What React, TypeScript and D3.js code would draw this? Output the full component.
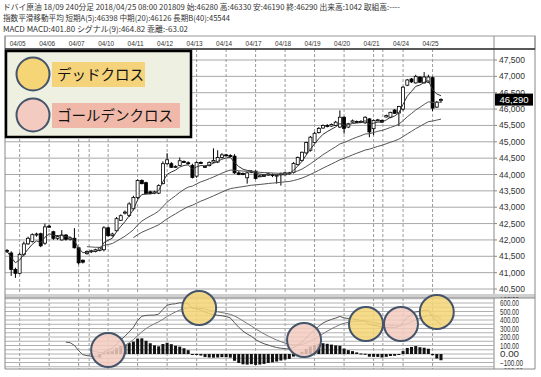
import React from 'react';
import * as d3 from 'd3';

const HEADER_LINES = [
  'ドバイ原油 18/09 240分足 2018/04/25 08:00 201809 始:46280 高:46330 安:46190 終:46290 出来高:1042 取組高:----',
  '指数平滑移動平均 短期A(5):46398 中期(20):46126 長期B(40):45544',
  'MACD MACD:401.80 シグナル(9):464.82 乖離:-63.02',
];
const HEADER_WIDTHS = [397, 227, 185];

const DATE_LABELS = ['04/05', '04/06', '04/07', '04/10', '04/11', '04/12', '04/13', '04/14', '04/17', '04/18', '04/19', '04/20', '04/21', '04/24', '04/25'];
const DATE_START_BARS = [3, 10, 17, 24, 31, 38, 45, 52, 59, 66, 73, 80, 87, 94, 101];
const SESSION_BREAK_BARS = [19.5, 89.2];

const PRICE_TICKS = d3.range(40500, 47501, 500);
const MACD_TICKS = d3.range(-200, 701, 100);
const MACD_GRID = d3.range(-200, 701, 50);

const OPEN = [
  41680, 41600, 41100, 40980, 41560, 41880, 41950, 42150, 42190, 41900,
  42420, 42250, 42050, 42000, 42150, 42020, 42050, 41760, 41380, 41580,
  41640, 41650, 41680, 41700, 42370, 42130, 42280, 42600, 42830, 42750,
  42950, 43300, 43820, 43750, 43470, 43430, 43430, 43720, 44330, 44330,
  44220, 44280, 44400, 44360, 44280, 43950, 44370, 44250, 44270, 44380,
  44380, 44520, 44600, 44580, 44560, 44050, 44030, 43900, 44060, 44100,
  43950, 43960, 43980, 44000, 43970, 44000, 43990, 44050, 44060, 44300,
  44430, 44660, 44740, 44980, 45280, 45420, 45500, 45480, 45500, 45450,
  45750, 45450, 45600, 45620, 45600, 45580, 45700, 45400, 45660, 45650,
  45760, 45750, 45970, 45880, 46000, 46730, 46920, 46800, 46980, 46800,
  46820, 46960, 46060, 46280,
];
const HIGH = [
  41720, 41650, 41150, 41620, 41950, 42100, 42200, 42220, 42220, 42500,
  42460, 42280, 42150, 42300, 42180, 42100, 42360, 41780, 41400, 41680,
  41700, 41730, 41780, 42420, 42400, 42220, 42700, 42780, 42900, 43150,
  43350, 43850, 43850, 43780, 43500, 43500, 43700, 44400, 44650, 44380,
  44280, 44520, 44430, 44400, 44330, 44400, 44400, 44280, 44400, 44800,
  44740, 44650, 44630, 44620, 44620, 44100, 44060, 44080, 44130, 44130,
  43990, 44000, 44050, 44030, 44000, 44060, 44080, 44080, 44380, 44550,
  44700, 45000, 45180, 45300, 45450, 45530, 45540, 45560, 45640, 45960,
  45780, 45580, 45680, 45650, 45660, 45780, 45720, 45680, 45700, 45680,
  45830, 45920, 46000, 46100, 46700, 46920, 46950, 47050, 47000, 47130,
  47050, 47000, 46250, 46330,
];
const LOW = [
  41600, 40900, 40840, 40950, 41500, 41850, 41920, 42100, 41780, 41850,
  42380, 42000, 42000, 41980, 41980, 41980, 41740, 41250, 41280, 41550,
  41600, 41620, 41650, 41650, 42100, 42100, 42250, 42580, 42780, 42700,
  42900, 43250, 43700, 43400, 43400, 43400, 43400, 43700, 44300, 44200,
  44200, 44260, 44350, 44300, 43880, 43900, 44330, 44200, 44250, 44350,
  44350, 44500, 44560, 44540, 44020, 43980, 43980, 43720, 44040, 43850,
  43920, 43930, 43960, 43920, 43720, 43660, 43970, 44000, 44030, 44280,
  44400, 44620, 44700, 44950, 45250, 45400, 45440, 45460, 45480, 45420,
  45250, 45420, 45580, 45580, 45570, 45550, 45140, 45200, 45630, 45580,
  45740, 45720, 45850, 45480, 45950, 46700, 46800, 46780, 46800, 46780,
  46800, 45940, 46040, 46190,
];
const CLOSE = [
  41650, 41100, 40980, 41560, 41880, 42050, 42160, 42180, 41820, 42400,
  42410, 42050, 42100, 42150, 42020, 42060, 41760, 41300, 41320, 41650,
  41670, 41700, 41760, 42370, 42130, 42180, 42650, 42740, 42850, 43100,
  43300, 43820, 43720, 43420, 43420, 43470, 43660, 44330, 44450, 44220,
  44250, 44420, 44370, 44330, 43910, 44370, 44360, 44230, 44370, 44430,
  44520, 44600, 44580, 44560, 44050, 44000, 44000, 44050, 44100, 43880,
  43960, 43970, 44020, 43970, 43980, 44020, 44050, 44030, 44340, 44520,
  44680, 44980, 45140, 45260, 45410, 45500, 45470, 45530, 45600, 45750,
  45410, 45550, 45640, 45600, 45620, 45750, 45300, 45650, 45670, 45600,
  45800, 45900, 45870, 46080, 46670, 46890, 46830, 47000, 46820, 46980,
  46980, 46030, 46210, 46290,
];
const LAST_PRICE = 46290;

const MA_PERIODS = [5, 20, 40];
const MA_START_BARS = [0, 19, 30];
const MACD_FAST = 12, MACD_SLOW = 26, MACD_SIGNAL = 9;
const MACD_START_BAR = 14, SIGNAL_START_BAR = 20, HIST_START_BAR = 22;

const CROSS_BARS = [24, 45.6, 70.5, 85.2, 93.5, 102];
const CROSS_VALUES = [47, 541, 165, 353, 353, 494];
const CROSS_KINDS = ['golden', 'dead', 'golden', 'dead', 'golden', 'dead'];

const LEGEND_LABELS = ['デッドクロス', 'ゴールデンクロス'];
const LEGEND_KINDS = ['dead', 'golden'];

function ema(vals: number[], n: number): number[] {
  const k = 2 / (n + 1);
  const out: number[] = [];
  let prev = vals[0];
  vals.forEach((v, i) => {
    prev = i === 0 ? v : v * k + prev * (1 - k);
    out.push(prev);
  });
  return out;
}

const FILL = { dead: '#F5D576', golden: '#F3CBC0' } as any;
const HILITE = { dead: '#F4D37A', golden: '#EFB8A8' } as any;
const RING = '#44546A';

export default function App() {
  const N = CLOSE.length;
  const x = d3.scaleLinear().domain([0, N - 1]).range([7, 441]);
  const y = d3.scaleLinear().domain([40500, 47500]).range([289, 60]);
  const ym = d3.scaleLinear().domain([-200, 700]).range([371, 294.5]);

  const L = 5, R = 535, DIV = 494;
  const mainTop = 49, mainBot = 294, macdTop = 298, macdBot = 369;

  const mas = MA_PERIODS.map((p) => ema(CLOSE, p));
  const fast = ema(CLOSE, MACD_FAST);
  const slow = ema(CLOSE, MACD_SLOW);
  const macd = fast.map((v, i) => v - slow[i]);
  const signal = ema(macd, MACD_SIGNAL);
  const hist = macd.map((v, i) => v - signal[i]);

  const line = d3.line<[number, number]>().x((d) => d[0]).y((d) => d[1]).curve(d3.curveLinear);
  const maPath = (vals: number[], start: number) =>
    line(vals.map((v, i) => [x(i), y(v)] as [number, number]).filter((_, i) => i >= start)) || '';
  const mPath = (vals: number[], start: number) =>
    line(vals.map((v, i) => [x(i), ym(v)] as [number, number]).filter((_, i) => i >= start)) || '';

  const vLines = [...DATE_START_BARS, ...SESSION_BREAK_BARS];
  const bw = 3;
  const font = "'Noto Sans CJK JP', 'Liberation Sans', sans-serif";
  const numFont = "'Liberation Sans', Arial, sans-serif";

  return (
    <svg width={541} height={377} style={{ position: 'fixed', left: 0, top: 0, background: '#fff' }}>
      <defs>
        <clipPath id="mainClip"><rect x={L} y={mainTop} width={DIV - L} height={mainBot - mainTop} /></clipPath>
        <clipPath id="macdClip"><rect x={L} y={macdTop} width={DIV - L} height={macdBot - macdTop} /></clipPath>
        <clipPath id="macdAxisClip"><rect x={DIV} y={macdTop - 1} width={R - DIV} height={macdBot - macdTop + 1} /></clipPath>
      </defs>
      <rect x={0} y={0} width={541} height={377} fill="#fff" />

      {HEADER_LINES.map((t, k) => (
        <text key={k} x={3} y={10 + k * 11} fontFamily={font} fontSize={8} fill="#333"
          textLength={HEADER_WIDTHS[k]} lengthAdjust="spacingAndGlyphs">{t}</text>
      ))}

      {/* date row */}
      <rect x={L} y={36} width={R - L} height={13} fill="#fff" stroke="#999" strokeWidth={1} />
      <line x1={DIV} x2={DIV} y1={36} y2={macdBot} stroke="#888" strokeWidth={1} />
      {DATE_LABELS.map((d, k) => (
        <text key={d} x={x(DATE_START_BARS[k]) - 2} y={46} textAnchor="middle" fontFamily={numFont}
          fontSize={8} fill="#333" textLength={16} lengthAdjust="spacingAndGlyphs">{d}</text>
      ))}

      {/* main grid */}
      {PRICE_TICKS.map((p) => (
        <line key={p} x1={L} x2={DIV} y1={y(p)} y2={y(p)} stroke="#a8a8a8" strokeWidth={1} />
      ))}
      {PRICE_TICKS.map((p) => (
        <line key={'t' + p} x1={DIV} x2={DIV + 3} y1={y(p)} y2={y(p)} stroke="#888" strokeWidth={1} />
      ))}
      {vLines.map((b, k) => (
        <g key={k}>
          <line x1={x(b)} x2={x(b)} y1={mainTop} y2={mainBot} stroke="#9a9a9a" strokeDasharray="3,2" strokeWidth={1} />
          <line x1={x(b)} x2={x(b)} y1={macdTop} y2={macdBot} stroke="#9a9a9a" strokeDasharray="3,2" strokeWidth={1} />
        </g>
      ))}

      {/* candles */}
      <g clipPath="url(#mainClip)">
        {CLOSE.map((c, i) => {
          const o = OPEN[i];
          const up = c >= o;
          const top = y(Math.max(o, c));
          const bot = y(Math.min(o, c));
          return (
            <g key={i}>
              <line x1={x(i)} x2={x(i)} y1={y(HIGH[i])} y2={y(LOW[i])} stroke="#000" strokeWidth={1} />
              <rect x={x(i) - bw / 2} y={top} width={bw} height={Math.max(1, bot - top)}
                fill={up ? '#fff' : '#000'} stroke="#000" strokeWidth={0.8} />
            </g>
          );
        })}
        {mas.map((m, k) => (
          <path key={k} d={maPath(m, MA_START_BARS[k])} fill="none" stroke={k === 0 ? '#333' : '#555'} strokeWidth={1} />
        ))}
      </g>

      {/* price axis */}
      {PRICE_TICKS.map((p) => (
        <text key={p} x={499} y={y(p) + 3} fontFamily={numFont} fontSize={8.5} fill="#333">
          {d3.format(',')(p)}
        </text>
      ))}
      <rect x={495} y={y(LAST_PRICE) - 6} width={38} height={12} fill="#000" />
      <text x={514} y={y(LAST_PRICE) + 3.5} textAnchor="middle" fontFamily={numFont} fontSize={9.5} fill="#fff">
        {d3.format(',')(LAST_PRICE)}
      </text>

      {/* pane separator */}
      <rect x={L} y={mainBot} width={R - L} height={macdTop - mainBot} fill="#d0d0d0" />
      <line x1={L} x2={R} y1={macdTop} y2={macdTop} stroke="#888" strokeWidth={1} />

      {/* MACD pane */}
      {MACD_GRID.map((v) => (
        ym(v) > macdTop && ym(v) < macdBot ? (
          <line key={v} x1={L} x2={DIV} y1={ym(v)} y2={ym(v)} stroke="#b0b0b0" strokeWidth={1} />
        ) : null
      ))}
      <g clipPath="url(#macdClip)">
        {hist.map((h, i) => (
          i >= HIST_START_BAR ? (
            <rect key={i} x={x(i) - bw / 2} y={Math.min(ym(0), ym(h))} width={bw}
              height={Math.max(1, Math.abs(ym(h) - ym(0)))} fill="#111" />
          ) : null
        ))}
        <path d={mPath(macd, MACD_START_BAR)} fill="none" stroke="#555" strokeWidth={1} />
        <path d={mPath(signal, SIGNAL_START_BAR)} fill="none" stroke="#777" strokeWidth={1} />
      </g>
      <g clipPath="url(#macdAxisClip)">
        {MACD_TICKS.map((v) => (
          <text key={v} x={500} y={ym(v) + 3} fontFamily={numFont} fontSize={8.5} fill="#333"
            textLength={v < 0 ? 23 : 19} lengthAdjust="spacingAndGlyphs">{d3.format('.2f')(v)}</text>
        ))}
      </g>

      {/* outer borders */}
      <line x1={L} x2={L} y1={36} y2={macdBot} stroke="#888" strokeWidth={1} />
      <line x1={R} x2={R} y1={36} y2={macdBot} stroke="#888" strokeWidth={1} />
      <line x1={L} x2={R} y1={macdBot} y2={macdBot} stroke="#888" strokeWidth={1} />
      <line x1={L} x2={R} y1={mainTop} y2={mainTop} stroke="#333" strokeWidth={1.5} />

      {/* cross markers (drawn over the pane edge like the reference) */}
      {CROSS_BARS.map((b, k) => (
        <circle key={k} cx={x(b)} cy={ym(CROSS_VALUES[k])} r={17} fill={FILL[CROSS_KINDS[k]]}
          fillOpacity={0.85} stroke={RING} strokeWidth={2} />
      ))}

      {/* legend */}
      <rect x={6} y={51} width={185} height={86} fill="#EEF0E2" stroke="#000" strokeWidth={2.5} />
      {LEGEND_LABELS.map((t, k) => {
        const cy = 74 + k * 41;
        const kind = LEGEND_KINDS[k];
        return (
          <g key={t}>
            <rect x={52} y={cy - 12} width={k === 0 ? 93 : 128} height={25} fill={HILITE[kind]} />
            <circle cx={33} cy={cy} r={16.5} fill={FILL[kind]} stroke={RING} strokeWidth={2} />
            <text x={57} y={cy + 5.5} fontFamily={font} fontSize={14.5} fill="#111">{t}</text>
          </g>
        );
      })}
    </svg>
  );
}
